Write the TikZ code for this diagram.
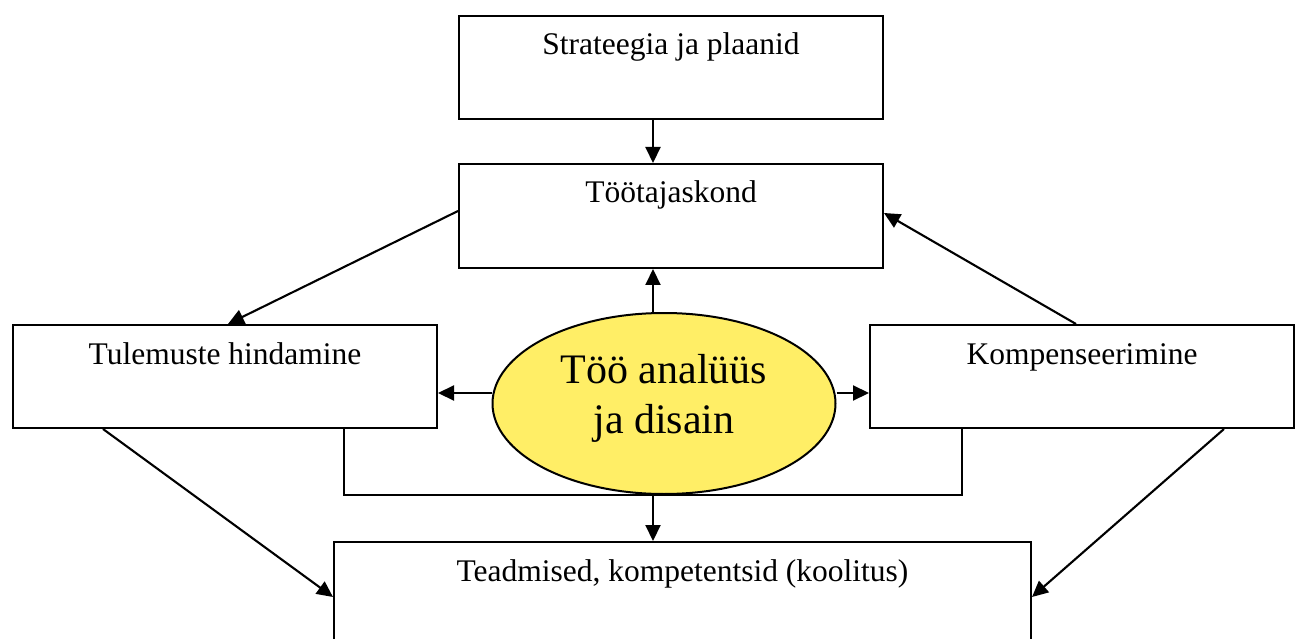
\documentclass[tikz,border=0pt]{standalone}
\usepackage{fontspec}
\setmainfont{Liberation Serif}
\usetikzlibrary{arrows.meta,shapes.geometric}
\definecolor{elfill}{RGB}{255,238,102}
\begin{document}
\begin{tikzpicture}[x=1pt,y=-1pt,
  box/.style={draw,line width=2pt,rectangle,inner sep=0pt,anchor=north west,
    font=\fontsize{31.5pt}{38pt}\selectfont,text height=39pt},
  arr/.style={line width=2.1pt,-{Triangle[length=16pt,width=15pt]}},
  conn/.style={line width=2.1pt}]
\useasboundingbox (0,0) rectangle (1299,639);
\node[box,minimum width=424pt,text depth=64pt] (s) at (458,15) {Strateegia ja plaanid};
\node[box,minimum width=424pt,text depth=65pt] (t) at (458,163) {Töötajaskond};
\node[box,minimum width=424pt,text depth=64pt] (h) at (12,324) {Tulemuste hindamine};
\node[box,minimum width=424pt,text depth=64pt] (k) at (869,324) {Kompenseerimine};
\node[box,minimum width=697pt,text depth=70pt] (e) at (333,541) {Teadmised, kompetentsid (koolitus)};
\coordinate (vx) at (653,0);
\coordinate (ay) at (0,393);
\coordinate (bl) at (344,495);
\coordinate (br) at (962,495);
\draw[conn] (h.south -| bl) -- (bl) -- (br) -- (k.south -| br);
\node[draw,ellipse,fill=elfill,line width=2pt,minimum width=343pt,minimum height=181pt,
  inner sep=0pt,align=center,font=\fontsize{42pt}{50pt}\selectfont] (el) at (664,403.5)
  {Töö analüüs\\ja disain\rule[-20pt]{0pt}{20pt}};
\draw[arr] (s.south -| vx) -- (t.north -| vx);
\draw[arr] (el.north -| vx) -- (t.south -| vx);
\draw[arr] (el.west |- ay) -- (h.east |- ay);
\draw[arr] (el.east |- ay) -- (k.west |- ay);
\draw[arr] (bl -| vx) -- (e.north -| vx);
\draw[arr] ([yshift=5pt]t.west) -- ([xshift=3pt]h.north);
\draw[arr] ([xshift=-6pt]k.north) -- ([yshift=3pt]t.east);
\draw[arr] ([xshift=91pt]h.south west) -- ([yshift=-56pt]e.north west);
\draw[arr] ([xshift=355pt]k.south west) -- ([yshift=-56pt]e.north east);
\end{tikzpicture}
\end{document}
